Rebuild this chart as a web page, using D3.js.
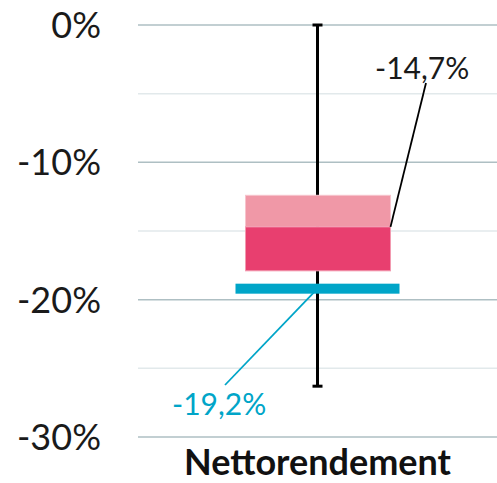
<!DOCTYPE html>
<html>
<head>
<meta charset="utf-8">
<script src="https://cdn.jsdelivr.net/npm/d3@7"></script>
<style>
  body { margin: 0; background: #fff; }
  text { font-family: Lato, sans-serif; }
</style>
</head>
<body>
<svg id="chart" width="497" height="483"></svg>
<script>
// data
const categories = ["Nettorendement"];
const whiskerLow = [-26.3];
const whiskerHigh = [0];
const boxHigh = [-12.4];
const median = [-14.7];
const boxLow = [-17.9];
const marker = [-19.2];
const yTicks = [0, -10, -20, -30];
const gridTicks = [0, -5, -10, -15, -20, -25, -30];

const locale = d3.formatLocale({decimal: ",", thousands: ".", grouping: [3], currency: ["", " €"], minus: "-"});
const fmt = locale.format(".1f");

var svg = d3.select("#chart"),
    width = +svg.attr("width"),
    height = +svg.attr("height");

var y = d3.scaleLinear().domain([0, -30]).range([25, 437]);
var x = d3.scaleBand().domain(categories).range([138, 497]);

// gridlines
svg.append("g")
    .selectAll("line")
    .data(gridTicks)
    .enter()
    .append("line")
    .attr("x1", 138)
    .attr("x2", width)
    .attr("y1", d => y(d))
    .attr("y2", d => y(d))
    .style("stroke", d => d % 10 === 0 ? "#aebfc3" : "#e2e9eb")
    .style("stroke-width", 1.5);

// y labels
svg.append("g")
    .selectAll("text")
    .data(yTicks)
    .enter()
    .append("text")
    .attr("x", 101)
    .attr("y", d => y(d))
    .attr("dy", "0.36em")
    .attr("text-anchor", "end")
    .style("font-size", "36px")
    .style("fill", "#1a1a1a")
    .text(d => d + "%");

var g = svg.append("g")
    .selectAll("g")
    .data(categories)
    .enter()
    .append("g");

const cx = (d) => x(d) + x.bandwidth() / 2;

// whisker
g.append("line")
    .attr("x1", cx).attr("x2", cx)
    .attr("y1", (d, i) => y(whiskerHigh[i]))
    .attr("y2", (d, i) => y(whiskerLow[i]))
    .style("stroke", "#000")
    .style("stroke-width", 3);
[whiskerHigh, whiskerLow].forEach(arr => {
    g.append("line")
        .attr("x1", d => cx(d) - 5).attr("x2", d => cx(d) + 5)
        .attr("y1", (d, i) => y(arr[i]))
        .attr("y2", (d, i) => y(arr[i]))
        .style("stroke", "#000")
        .style("stroke-width", 3);
});

// box
var boxW = 145;
g.append("rect")
    .attr("x", d => cx(d) - 72)
    .attr("width", boxW)
    .attr("y", (d, i) => y(boxHigh[i]))
    .attr("height", (d, i) => y(median[i]) - y(boxHigh[i]))
    .style("fill", "#f098a7")
    .style("stroke", "#f7c4cd")
    .style("stroke-width", 1);
g.append("rect")
    .attr("x", d => cx(d) - 72)
    .attr("width", boxW)
    .attr("y", (d, i) => y(median[i]))
    .attr("height", (d, i) => y(boxLow[i]) - y(median[i]))
    .style("fill", "#e83f6f")
    .style("stroke", "#f29ab0")
    .style("stroke-width", 1);

// marker
g.append("rect")
    .attr("x", d => cx(d) - 82)
    .attr("width", 164)
    .attr("y", (d, i) => y(marker[i]) - 5)
    .attr("height", 10)
    .style("fill", "#00a5c8");

// median label
g.append("line")
    .attr("x1", d => cx(d) - 72 + boxW)
    .attr("y1", (d, i) => y(median[i]))
    .attr("x2", 426).attr("y2", 83)
    .style("stroke", "#000")
    .style("stroke-width", 1.8);
g.append("text")
    .attr("x", 375).attr("y", 79)
    .style("font-size", "30px")
    .style("fill", "#1a1a1a")
    .text((d, i) => fmt(median[i]) + "%");

// marker label
g.append("line")
    .attr("x1", cx)
    .attr("y1", (d, i) => y(marker[i]))
    .attr("x2", 225).attr("y2", 385)
    .style("stroke", "#00a5c8")
    .style("stroke-width", 1.8);
g.append("text")
    .attr("x", 172).attr("y", 415)
    .style("font-size", "30px")
    .style("fill", "#00a5c8")
    .text((d, i) => fmt(marker[i]) + "%");

// category label
g.append("text")
    .attr("x", cx)
    .attr("y", 475)
    .attr("text-anchor", "middle")
    .style("font-size", "36px")
    .style("font-weight", "bold")
    .style("fill", "#111")
    .text(d => d);
</script>
</body>
</html>
